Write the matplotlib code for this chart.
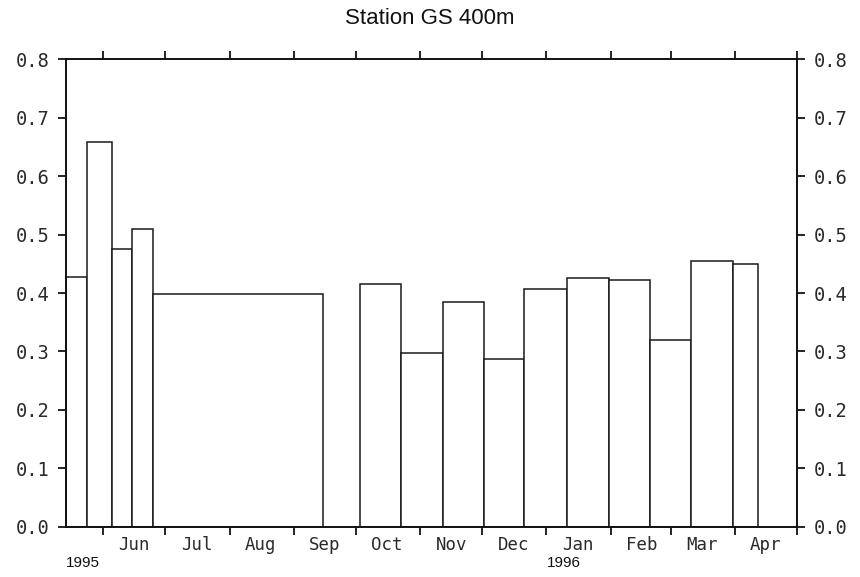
import matplotlib
matplotlib.use("Agg")
import matplotlib.pyplot as plt
import matplotlib.dates as mdates
import numpy as np

# sample periods (start / end dates) and measured values
starts = ["1995-05-14", "1995-05-24", "1995-06-05", "1995-06-15", "1995-06-25",
          "1995-10-03", "1995-10-23", "1995-11-12", "1995-12-02", "1995-12-21",
          "1996-01-11", "1996-01-31", "1996-02-20", "1996-03-11", "1996-03-31"]
ends = ["1995-05-24", "1995-06-05", "1995-06-15", "1995-06-25", "1995-09-15",
        "1995-10-23", "1995-11-12", "1995-12-02", "1995-12-21", "1996-01-11",
        "1996-01-31", "1996-02-20", "1996-03-11", "1996-03-31", "1996-04-12"]
values = [0.427, 0.658, 0.476, 0.510, 0.398,
          0.415, 0.297, 0.384, 0.287, 0.406,
          0.426, 0.422, 0.320, 0.455, 0.449]

yticks = [0.0, 0.1, 0.2, 0.3, 0.4, 0.5, 0.6, 0.7, 0.8]
title = "Station GS 400m"

plt.rcParams['font.family'] = ['DejaVu Sans Mono']

x0 = mdates.datestr2num(starts)
x1 = mdates.datestr2num(ends)

fig = plt.figure(figsize=(8.6, 5.77), dpi=100)
ax = fig.add_axes([0.0767, 0.0875, 0.85, 0.8094])

ax.bar(x0, values, width=x1 - x0, align='edge', facecolor='white',
       edgecolor='#1a1a1a', linewidth=1.1)

ax.set_xlim(mdates.datestr2num("1995-05-14"), mdates.datestr2num("1996-05-01"))
ax.set_ylim(0, 0.8)

ax.set_yticks(yticks)
ax.set_yticklabels(["%.1f" % v for v in yticks])

ax.xaxis.set_major_locator(mdates.MonthLocator(bymonthday=1))
ax.xaxis.set_major_formatter(plt.NullFormatter())
ax.xaxis.set_minor_locator(mdates.MonthLocator(bymonth=[6, 7, 8, 9, 10, 11, 12, 1, 2, 3, 4],
                                               bymonthday=16))
ax.xaxis.set_minor_formatter(mdates.DateFormatter('%b'))

ax.tick_params(axis='x', which='major', direction='out', length=6, width=1.2,
               top=True, bottom=True)
ax.tick_params(axis='x', which='minor', length=0, pad=7, labelsize=12.5,
               labelcolor='#2a2a2a')
ax.tick_params(axis='y', direction='out', length=6, width=1.2, pad=6,
               left=True, right=True, labelleft=True, labelright=True,
               labelsize=13.5, labelcolor='#2a2a2a')

for s in ax.spines.values():
    s.set_linewidth(1.4)
    s.set_color('#111111')

# year markers under the month labels
for year, date in [("1995", "1995-05-14"), ("1996", "1996-01-01")]:
    ax.text(mdates.datestr2num(date), -0.078, year, transform=ax.get_xaxis_transform(),
            ha='left', va='center', fontsize=11, family='Liberation Sans',
            color='#111111')

fig.text(0.5, 0.968, title, ha='center', va='center', fontsize=16,
         family='Liberation Sans', color='#111111')

fig.savefig("out.png", dpi=100)
